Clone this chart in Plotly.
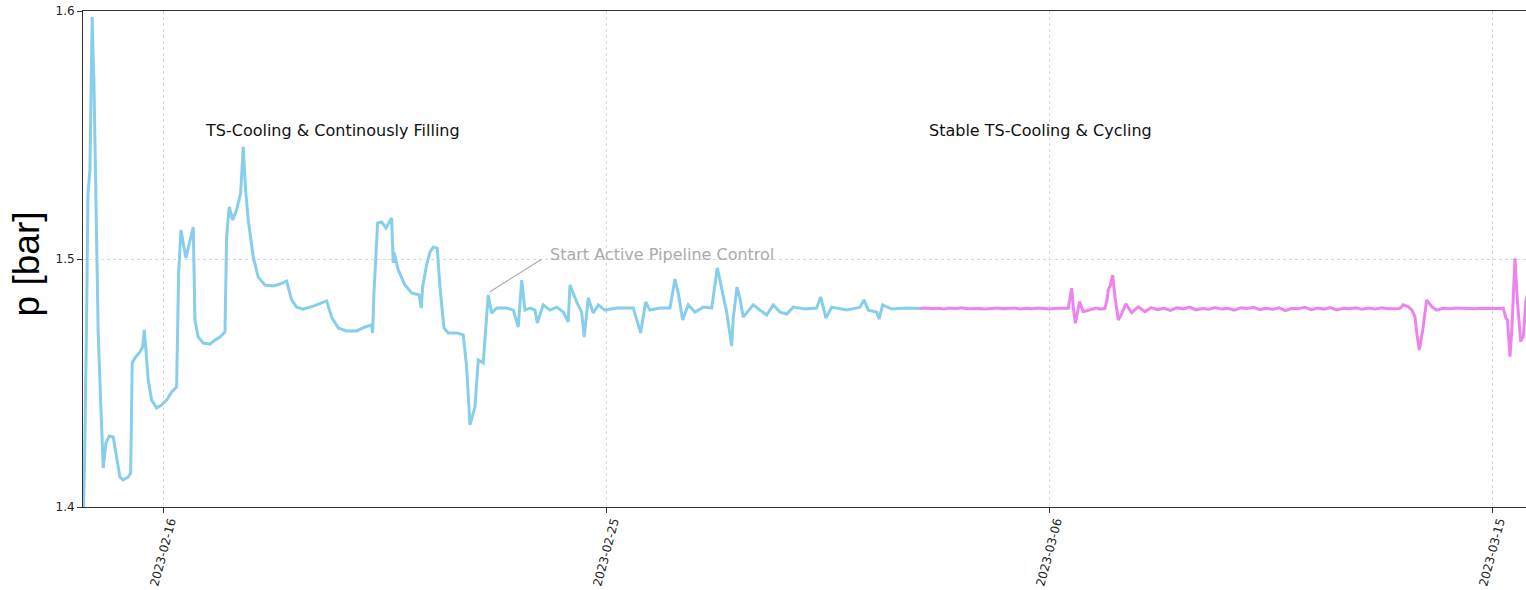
import pandas as pd
import plotly.graph_objects as go

BASE = pd.Timestamp("2023-02-14")

# --- TS-Cooling & continuous filling (blue) : days since 2023-02-14, pressure [bar]
blue_days = [
    0.375, 0.399, 0.440, 0.470, 0.511, 0.557, 0.572, 0.592, 0.633, 0.679,
    0.728, 0.781, 0.836, 0.903, 0.984, 1.053, 1.120, 1.187, 1.289, 1.338,
    1.370, 1.425, 1.527, 1.581, 1.614, 1.649, 1.695, 1.764, 1.866, 1.968,
    2.069, 2.171, 2.272, 2.313, 2.360, 2.461, 2.542, 2.610, 2.644, 2.711,
    2.813, 2.949, 3.050, 3.152, 3.254, 3.288, 3.341, 3.410, 3.491, 3.573,
    3.625, 3.674, 3.727, 3.829, 3.930, 4.066, 4.235, 4.371, 4.507, 4.609,
    4.710, 4.844, 5.048, 5.218, 5.320, 5.421, 5.556, 5.726, 5.929, 6.098,
    6.234, 6.254, 6.281, 6.356, 6.437, 6.525, 6.640, 6.673, 6.687, 6.774,
    6.911, 7.047, 7.201, 7.242, 7.270, 7.351, 7.419, 7.486, 7.567, 7.622,
    7.703, 7.790, 7.961, 8.095, 8.164, 8.231, 8.333, 8.400, 8.501, 8.603,
    8.672, 8.774, 8.977, 9.111, 9.213, 9.282, 9.349, 9.450, 9.552, 9.599,
    9.720, 9.857, 9.993, 10.127, 10.228, 10.263, 10.399, 10.501, 10.553, 10.635,
    10.736, 10.838, 10.974, 11.212, 11.549, 11.699, 11.801, 11.888, 12.092, 12.295,
    12.396, 12.463, 12.553, 12.666, 12.803, 12.971, 13.142, 13.256, 13.345, 13.447,
    13.548, 13.581, 13.656, 13.717, 13.784, 13.987, 14.123, 14.259, 14.393, 14.530,
    14.666, 14.800, 15.038, 15.275, 15.357, 15.464, 15.580, 15.885, 16.155, 16.236,
    16.324, 16.494, 16.541, 16.616, 16.799, 17.104, 17.374,
]
blue_p = [
    1.3950, 1.4149, 1.4714, 1.5258, 1.5359, 1.5976, 1.5843, 1.5722, 1.5238, 1.4702,
    1.4431, 1.4157, 1.4258, 1.4286, 1.4282, 1.4190, 1.4121, 1.4109, 1.4121, 1.4137,
    1.4581, 1.4601, 1.4625, 1.4645, 1.4714, 1.4633, 1.4512, 1.4431, 1.4399, 1.4411,
    1.4431, 1.4464, 1.4484, 1.4944, 1.5117, 1.5004, 1.5077, 1.5129, 1.4754, 1.4685,
    1.4661, 1.4657, 1.4673, 1.4685, 1.4706, 1.5089, 1.5210, 1.5157, 1.5198, 1.5266,
    1.5452, 1.5278, 1.5157, 1.5008, 1.4927, 1.4895, 1.4891, 1.4899, 1.4911, 1.4835,
    1.4806, 1.4798, 1.4810, 1.4823, 1.4831, 1.4766, 1.4722, 1.4710, 1.4710, 1.4726,
    1.4734, 1.4702, 1.4863, 1.5145, 1.5149, 1.5125, 1.5165, 1.4984, 1.5028, 1.4956,
    1.4895, 1.4863, 1.4855, 1.4802, 1.4887, 1.4976, 1.5028, 1.5048, 1.5044, 1.4887,
    1.4722, 1.4702, 1.4702, 1.4694, 1.4565, 1.4331, 1.4403, 1.4593, 1.4581, 1.4855,
    1.4782, 1.4802, 1.4802, 1.4794, 1.4726, 1.4915, 1.4794, 1.4802, 1.4794, 1.4742,
    1.4815, 1.4794, 1.4806, 1.4786, 1.4746, 1.4895, 1.4827, 1.4786, 1.4685, 1.4843,
    1.4782, 1.4815, 1.4794, 1.4802, 1.4802, 1.4702, 1.4827, 1.4794, 1.4802, 1.4802,
    1.4919, 1.4863, 1.4754, 1.4815, 1.4786, 1.4806, 1.4802, 1.4964, 1.4883, 1.4786,
    1.4649, 1.4762, 1.4887, 1.4839, 1.4766, 1.4815, 1.4794, 1.4774, 1.4815, 1.4786,
    1.4778, 1.4806, 1.4798, 1.4802, 1.4847, 1.4762, 1.4806, 1.4794, 1.4806, 1.4835,
    1.4794, 1.4786, 1.4758, 1.4815, 1.4798, 1.4802, 1.4800,
]

# --- Stable TS-Cooling & cycling (pink)
pink_days = [
    17.374, 17.50, 17.62, 17.74, 17.86, 17.98, 18.10, 18.22, 18.34, 18.46,
    18.58, 18.70, 18.82, 18.94, 19.06, 19.18, 19.30, 19.42, 19.54, 19.66,
    19.78, 19.90, 20.02, 20.14, 20.26, 20.387, 20.456, 20.488, 20.533, 20.614,
    20.692, 20.828, 20.95, 21.05, 21.133, 21.173, 21.200, 21.245, 21.289, 21.336,
    21.403, 21.457, 21.559, 21.675, 21.809, 21.945, 22.07, 22.20, 22.33, 22.46,
    22.59, 22.72, 22.85, 22.98, 23.11, 23.24, 23.37, 23.50, 23.63, 23.76,
    23.89, 24.02, 24.15, 24.28, 24.41, 24.54, 24.67, 24.80, 24.93, 25.06,
    25.19, 25.32, 25.45, 25.58, 25.71, 25.84, 25.97, 26.10, 26.23, 26.36,
    26.49, 26.62, 26.75, 26.88, 27.01, 27.12, 27.193, 27.295, 27.370, 27.431,
    27.472, 27.518, 27.588, 27.669, 27.770, 27.872, 28.00, 28.13, 28.26, 28.39,
    28.52, 28.65, 28.78, 28.91, 29.04, 29.15, 29.225, 29.280, 29.310, 29.361,
    29.401, 29.462, 29.509, 29.578, 29.631, 29.686, 29.75,
]
pink_p = [
    1.4800, 1.4802, 1.4799, 1.4801, 1.4798, 1.4802, 1.4800, 1.4803, 1.4799, 1.4801,
    1.4800, 1.4798, 1.4801, 1.4802, 1.4799, 1.4800, 1.4802, 1.4798, 1.4801, 1.4799,
    1.4802, 1.4800, 1.4798, 1.4801, 1.4800, 1.4801, 1.4882, 1.4806, 1.4741, 1.4828,
    1.4788, 1.4794, 1.4802, 1.4798, 1.4801, 1.4835, 1.4875, 1.4895, 1.4935, 1.4848,
    1.4754, 1.4774, 1.4819, 1.4783, 1.4807, 1.4788, 1.4804, 1.4796, 1.4801, 1.4793,
    1.4803, 1.4799, 1.4806, 1.4795, 1.4800, 1.4797, 1.4804, 1.4798, 1.4801, 1.4794,
    1.4803, 1.4800, 1.4805, 1.4796, 1.4801, 1.4797, 1.4803, 1.4792, 1.4801, 1.4799,
    1.4805, 1.4796, 1.4802, 1.4798, 1.4804, 1.4795, 1.4801, 1.4799, 1.4803, 1.4797,
    1.4802, 1.4798, 1.4803, 1.4799, 1.4801, 1.4800, 1.4815, 1.4807, 1.4794, 1.4767,
    1.4694, 1.4633, 1.4714, 1.4835, 1.4808, 1.4794, 1.4801, 1.4799, 1.4802, 1.4800,
    1.4801, 1.4799, 1.4801, 1.4800, 1.4802, 1.4800, 1.4801, 1.4761, 1.4754, 1.4606,
    1.4727, 1.5003, 1.4835, 1.4667, 1.4687, 1.4835, 1.4880,
]

tick_dates = ["2023-02-16", "2023-02-25", "2023-03-06", "2023-03-15"]
y_ticks = [1.4, 1.5, 1.6]
phase_labels = ["TS-Cooling & Continously Filling", "Stable TS-Cooling & Cycling"]
event_label = "Start Active Pipeline Control"


def to_time(days):
    return BASE + pd.to_timedelta(pd.Series(days), unit="D")


FONT = "DejaVu Sans"
fig = go.Figure()
fig.add_trace(go.Scatter(x=to_time(blue_days), y=blue_p, mode="lines",
                         line=dict(color="#87CEEB", width=3), showlegend=False))
fig.add_trace(go.Scatter(x=to_time(pink_days), y=pink_p, mode="lines",
                         line=dict(color="#EE82EE", width=3), showlegend=False))

x_start = BASE + pd.Timedelta(days=0.37)
x_end = BASE + pd.Timedelta(days=29.686)

fig.update_layout(
    width=1526, height=590,
    margin=dict(l=83, r=0, t=11, b=83),
    plot_bgcolor="white", paper_bgcolor="white",
    font=dict(family=FONT, color="#222222"),
    xaxis=dict(type="date", range=[x_start, x_end], tickvals=tick_dates,
               showticklabels=False, ticks="outside", ticklen=5, tickcolor="#333333",
               showgrid=True, gridcolor="#d8d8d8", griddash="dot", gridwidth=1,
               showline=True, linecolor="#333333", linewidth=1, mirror=True,
               zeroline=False),
    yaxis=dict(range=[1.4, 1.6], tickvals=y_ticks, ticktext=[f"{v:.1f}" for v in y_ticks],
               ticks="outside", ticklen=5, tickcolor="#333333",
               tickfont=dict(size=12, color="#222222"),
               showgrid=True, gridcolor="#d8d8d8", griddash="dot", gridwidth=1,
               showline=True, linecolor="#333333", linewidth=1, zeroline=False),
)

# rotated, centred date labels
for d in tick_dates:
    fig.add_annotation(x=d, y=-0.0907, xref="x", yref="paper", text=d,
                       textangle=-75, showarrow=False, xanchor="center", yanchor="middle",
                       font=dict(size=12, color="#222222", family=FONT))

# y-axis title
fig.add_annotation(x=-0.0385, y=0.49, xref="paper", yref="paper", text="p [bar]",
                   textangle=-90, showarrow=False, xanchor="center", yanchor="middle",
                   font=dict(size=37, color="#000000", family="Liberation Sans"))

# phase labels
fig.add_annotation(x=BASE + pd.Timedelta(days=5.448), y=1.552, text=phase_labels[0],
                   showarrow=False, font=dict(size=16, color="#111111", family=FONT))
fig.add_annotation(x=BASE + pd.Timedelta(days=19.832), y=1.552, text=phase_labels[1],
                   showarrow=False, font=dict(size=16, color="#111111", family=FONT))

# event annotation with leader line
fig.add_shape(type="line", xref="x", yref="y",
              x0=BASE + pd.Timedelta(days=8.638), y0=1.4868,
              x1=BASE + pd.Timedelta(days=9.688), y1=1.4999,
              line=dict(color="#aaaaaa", width=1.2))
fig.add_annotation(x=BASE + pd.Timedelta(days=9.82), y=1.502, text=event_label,
                   showarrow=False, xanchor="left", yanchor="middle",
                   font=dict(size=16, color="#aaaaaa", family=FONT))

fig.write_html("out.html", config={"displayModeBar": False},
               post_script="document.body.style.margin='0';document.body.style.overflow='hidden';")
